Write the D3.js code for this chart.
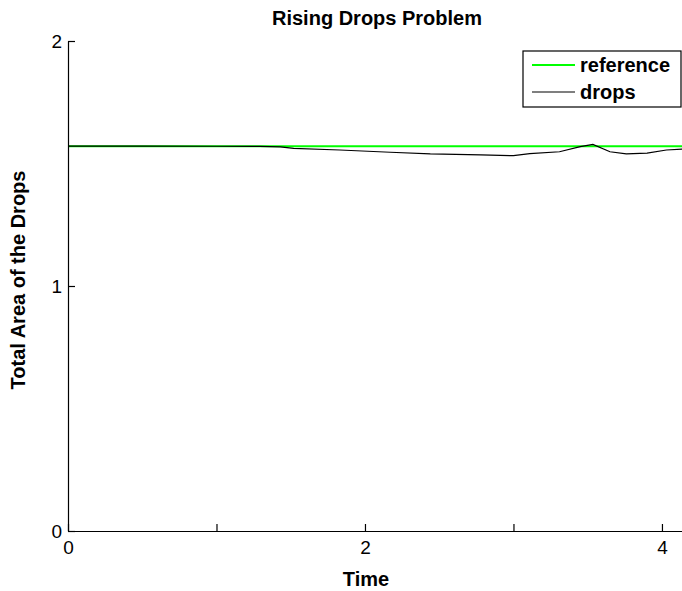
<!DOCTYPE html>
<html>
<head>
<meta charset="utf-8">
<script src="https://cdn.jsdelivr.net/npm/d3@7"></script>
<style>
  body { margin: 0; background: #fff; }
  svg { display: block; font-family: "Liberation Sans", Arial, sans-serif; }
</style>
</head>
<body>
<svg class="chart" width="682" height="591"></svg>
<script>
var svg = d3.select('svg.chart');

// values
var times = [0, 0.5, 1.0, 1.29, 1.43, 1.52, 1.83, 2.17, 2.44, 2.78, 3.0, 3.11, 3.31, 3.45, 3.535, 3.65, 3.76, 3.9, 4.03, 4.14];
var drops = [1.5708, 1.5707, 1.5705, 1.5700, 1.568, 1.562, 1.555, 1.546, 1.539, 1.535, 1.532, 1.540, 1.548, 1.569, 1.578, 1.548, 1.539, 1.542, 1.555, 1.559];
var referenceArea = Math.PI / 2;
var xTicks = [0, 1, 2, 3, 4];
var yTicks = [0, 1, 2];
var xMax = 4.135;
var legendNames = ['reference', 'drops'];

var x = d3.scaleLinear().domain([0, xMax]).range([68, 682]);
var y = d3.scaleLinear().domain([0, 2]).range([531, 41]);

var line = d3.line()
    .x(function (d) { return x(d[0]); })
    .y(function (d) { return y(d[1]); });

// reference line
svg.append('path')
    .datum([[0, referenceArea], [xMax, referenceArea]])
    .attr('d', line)
    .attr('fill', 'none')
    .attr('stroke', '#00ff00')
    .attr('stroke-width', 2);

// drops
svg.append('path')
    .datum(times.map(function (t, i) { return [t, drops[i]]; }))
    .attr('d', line)
    .attr('fill', 'none')
    .attr('stroke', '#000')
    .attr('stroke-width', 1.2);

var xAxis = d3.axisBottom(x)
    .tickValues(xTicks)
    .tickSizeInner(-7)
    .tickSizeOuter(0)
    .tickPadding(10)
    .tickFormat(function (d) { return d % 2 === 0 ? d : ''; });

var yAxis = d3.axisLeft(y)
    .tickValues(yTicks)
    .tickSizeInner(-7)
    .tickSizeOuter(0)
    .tickPadding(6)
    .tickFormat(d3.format('d'));

var gx = svg.append('g')
    .attr('transform', 'translate(0,' + y(0) + ')')
    .call(xAxis);
var gy = svg.append('g')
    .attr('transform', 'translate(' + x(0) + ',0)')
    .call(yAxis);

[gx, gy].forEach(function (g) {
    g.selectAll('path, line').attr('stroke', '#000').attr('stroke-width', 1.2);
    g.selectAll('text')
        .attr('fill', '#000')
        .style('font-size', '19px')
        .style('font-family', '"Liberation Sans", Arial, sans-serif');
});

// title and labels
svg.append('text')
    .attr('x', 377)
    .attr('y', 25)
    .attr('text-anchor', 'middle')
    .style('font-size', '20px')
    .style('font-weight', 'bold')
    .text('Rising Drops Problem');

svg.append('text')
    .attr('x', 366)
    .attr('y', 586)
    .attr('text-anchor', 'middle')
    .style('font-size', '20px')
    .style('font-weight', 'bold')
    .text('Time');

svg.append('text')
    .attr('transform', 'translate(25,' + (y(1) - 6) + ') rotate(-90)')
    .attr('text-anchor', 'middle')
    .style('font-size', '20px')
    .style('font-weight', 'bold')
    .text('Total Area of the Drops');

// legend
var legend = svg.append('g');
legend.append('rect')
    .attr('x', 523)
    .attr('y', 51)
    .attr('width', 158)
    .attr('height', 56)
    .attr('fill', '#fff')
    .attr('stroke', '#000')
    .attr('stroke-width', 1.2);

var item = legend.selectAll('.item')
    .data(legendNames)
    .enter()
    .append('g')
    .attr('class', 'item')
    .attr('transform', function (d, i) { return 'translate(0,' + (65 + i * 27) + ')'; });

item.append('line')
    .attr('x1', 532)
    .attr('x2', 575)
    .attr('stroke', function (d, i) { return i === 0 ? '#00ff00' : '#000'; })
    .attr('stroke-width', function (d, i) { return i === 0 ? 2 : 1.2; });

item.append('text')
    .attr('x', 580)
    .attr('dy', '0.35em')
    .style('font-size', '20px')
    .style('font-weight', 'bold')
    .text(function (d) { return d; });
</script>
</body>
</html>
